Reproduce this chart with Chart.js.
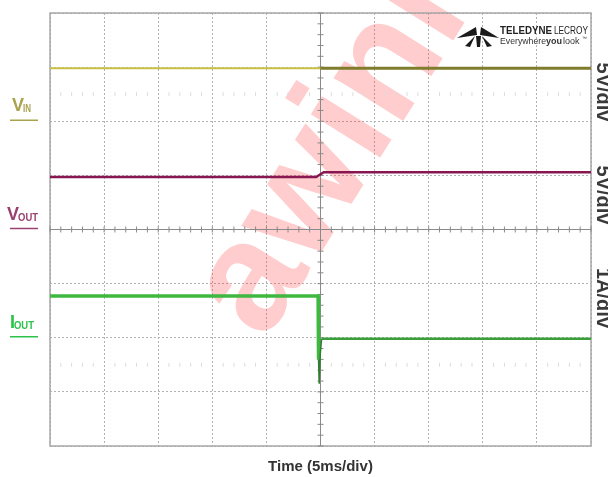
<!DOCTYPE html>
<html>
<head>
<meta charset="utf-8">
<script src="https://cdn.jsdelivr.net/npm/chart.js@4.4.1/dist/chart.umd.min.js"></script>
<style>
  html, body { margin: 0; padding: 0; background: #fff; }
  #wrap { width: 608px; height: 477px; position: relative; }
</style>
</head>
<body>
<div id="wrap"><canvas id="scope"></canvas></div>
<script>
// time in ms relative to trigger (5 ms/div, 10 div), level in screen divisions (0..8)
const vinTime = [-25, 0, 25];
const vinDiv = [6.98, 6.98, 6.98];

const voutTime = [-25, -0.4, 0.3, 25];
const voutDiv = [4.97, 4.97, 5.06, 5.06];

const ioutTime = [-25, -0.22, -0.18, -0.12, -0.02, 0.1, 25];
const ioutDiv = [2.77, 2.77, 1.6, 1.15, 1.7, 1.98, 1.98];

const channelLabels = [
  { main: 'V', sub: 'IN', div: 6, color: '#a9a24f' },
  { main: 'V', sub: 'OUT', div: 4, color: '#98406e' },
  { main: 'I', sub: 'OUT', div: 2, color: '#2cc24a' }
];
const scaleLabels = ['5V/div', '5V/div', '1A/div'];

const toPoints = (t, v) => t.map((x, i) => ({ x: x, y: v[i] }));

const scopeDecor = {
  id: 'scopeDecor',
  beforeDatasetsDraw(chart) {
    const { ctx, chartArea: a, scales: { x, y } } = chart;
    ctx.save();

    // watermark
    ctx.save();
    ctx.translate(265, 342);
    ctx.rotate(-58 * Math.PI / 180);
    ctx.font = 'bold 155px "Liberation Sans", Arial, sans-serif';
    ctx.fillStyle = 'rgba(255, 45, 45, 0.24)';
    ctx.fillText('awinic', 0, 0);
    ctx.restore();

    // frame
    ctx.strokeStyle = '#a8a8a8';
    ctx.lineWidth = 1.5;
    ctx.strokeRect(a.left, a.top, a.right - a.left, a.bottom - a.top);

    // center cross with minor ticks
    const cx = x.getPixelForValue(0);
    const cy = y.getPixelForValue(4);
    ctx.strokeStyle = '#8a8a8a';
    ctx.lineWidth = 1;
    ctx.beginPath();
    ctx.moveTo(a.left, cy); ctx.lineTo(a.right, cy);
    ctx.moveTo(cx, a.top); ctx.lineTo(cx, a.bottom);
    for (let t = -25; t <= 25; t += 1) {
      const px = x.getPixelForValue(t);
      ctx.moveTo(px, cy - 3); ctx.lineTo(px, cy + 3);
    }
    for (let d = 0; d <= 40; d++) {
      const py = y.getPixelForValue(d / 5);
      ctx.moveTo(cx - 3, py); ctx.lineTo(cx + 3, py);
    }
    ctx.stroke();

    // faint marker rows
    ctx.strokeStyle = '#dcdcdc';
    ctx.beginPath();
    [6.5, 1.5].forEach((d) => {
      const py = y.getPixelForValue(d);
      for (let t = -24; t < 25; t += 1) {
        if (t % 5 === 0) continue;
        const px = x.getPixelForValue(t);
        ctx.moveTo(px, py - 2); ctx.lineTo(px, py + 2);
      }
    });
    ctx.stroke();
    ctx.restore();
  },
  afterDraw(chart) {
    const { ctx, scales: { y } } = chart;
    ctx.save();

    // channel names on the left
    channelLabels.forEach((lab) => {
      const base = y.getPixelForValue(lab.div) - 10;
      ctx.fillStyle = lab.color;
      ctx.textBaseline = 'alphabetic';
      ctx.textAlign = 'left';
      const x0 = lab.main === 'I' ? 10 : (lab.sub === 'IN' ? 12 : 7);
      ctx.font = 'bold 18px "Liberation Sans", Arial, sans-serif';
      ctx.fillText(lab.main, x0, base);
      const w = ctx.measureText(lab.main).width;
      ctx.font = 'bold 11px "Liberation Sans", Arial, sans-serif';
      ctx.fillText(lab.sub, x0 + w - 1, base + 1, lab.sub === 'IN' ? 8 : 20);
      ctx.strokeStyle = lab.color;
      ctx.lineWidth = 1.5;
      ctx.beginPath();
      ctx.moveTo(10, base + 9); ctx.lineTo(38, base + 9);
      ctx.stroke();
    });

    // volts/amps per division on the right, rotated
    const centers = [92, 195, 298];
    ctx.fillStyle = '#3a3a3a';
    ctx.font = 'bold 20px "Liberation Sans", Arial, sans-serif';
    ctx.textAlign = 'center';
    ctx.textBaseline = 'alphabetic';
    scaleLabels.forEach((txt, i) => {
      ctx.save();
      ctx.translate(597, centers[i]);
      ctx.rotate(Math.PI / 2);
      ctx.fillText(txt, 0, 0);
      ctx.restore();
    });

    // scope brand mark
    ctx.fillStyle = '#1a1a1a';
    ctx.beginPath();
    ctx.moveTo(457, 38); ctx.lineTo(476, 27); ctx.lineTo(477, 35); ctx.closePath();
    ctx.moveTo(499, 38); ctx.lineTo(481, 27); ctx.lineTo(480, 35); ctx.closePath();
    ctx.moveTo(476, 36); ctx.lineTo(481, 36); ctx.lineTo(480, 47); ctx.lineTo(477, 47); ctx.closePath();
    ctx.moveTo(475, 36); ctx.lineTo(470, 47); ctx.lineTo(465, 46); ctx.closePath();
    ctx.moveTo(482, 36); ctx.lineTo(487, 47); ctx.lineTo(492, 46); ctx.closePath();
    ctx.fill();

    ctx.textAlign = 'left';
    ctx.fillStyle = '#222';
    ctx.font = 'bold 11px "Liberation Sans", Arial, sans-serif';
    ctx.fillText('TELEDYNE', 500, 34, 52);
    ctx.font = '11px "Liberation Sans", Arial, sans-serif';
    ctx.fillText('LECROY', 554, 34, 34);
    ctx.font = '9px "Liberation Sans", Arial, sans-serif';
    ctx.fillStyle = '#333';
    ctx.fillText('Everywhere', 500, 44, 46);
    ctx.font = 'bold 9px "Liberation Sans", Arial, sans-serif';
    ctx.fillText('you', 546, 44, 17);
    ctx.font = '9px "Liberation Sans", Arial, sans-serif';
    ctx.fillText('look', 563, 44, 19);
    ctx.font = '5px "Liberation Sans", Arial, sans-serif';
    ctx.fillText('™', 582, 40);

    ctx.restore();
  }
};

function chartInit() {
  const canvas = document.getElementById('scope');

  const scopeOptions = {
    type: 'line',
    data: {
      datasets: [
        {
          label: 'VIN',
          data: toPoints(vinTime, vinDiv),
          borderColor: '#7f7c2c',
          borderWidth: 3,
          segment: {
            borderColor: (c) => c.p0.parsed.x < 0 ? '#c9c146' : '#7f7c2c',
            borderWidth: (c) => c.p0.parsed.x < 0 ? 2 : 3
          }
        },
        {
          label: 'VOUT',
          data: toPoints(voutTime, voutDiv),
          borderColor: '#881650',
          borderWidth: 2.5
        },
        {
          label: 'IOUT',
          data: toPoints(ioutTime, ioutDiv),
          borderColor: '#3a9e3a',
          borderWidth: 2.5,
          segment: {
            borderColor: (c) => c.p0.parsed.x < -0.2 ? '#3fb840' : (c.p0.parsed.x < 0.1 ? '#2f7d2f' : '#3a9e3a'),
            borderWidth: (c) => c.p0.parsed.x < -0.2 ? 3.5 : (c.p0.parsed.x < 0.1 ? 1.5 : 2.5)
          }
        }
      ]
    },
    options: {
      responsive: true,
      maintainAspectRatio: false,
      animation: false,
      events: [],
      elements: {
        point: { radius: 0 },
        line: { tension: 0, borderJoinStyle: 'miter' }
      },
      layout: {
        padding: { left: 50, right: 17, top: 13, bottom: 0 }
      },
      scales: {
        x: {
          type: 'linear',
          min: -25,
          max: 25,
          ticks: { display: false, stepSize: 5 },
          grid: { color: '#b2b2b2', lineWidth: 1, drawTicks: false },
          border: { display: false, dash: [2, 2] },
          title: {
            display: true,
            text: 'Time (5ms/div)',
            color: '#333',
            font: { family: '"Liberation Sans", Arial, sans-serif', size: 15, weight: 'bold' },
            padding: { top: 12, bottom: 1 }
          }
        },
        y: {
          min: 0,
          max: 8,
          ticks: { display: false, stepSize: 1 },
          grid: { color: '#b2b2b2', lineWidth: 1, drawTicks: false },
          border: { display: false, dash: [2, 2] }
        }
      },
      plugins: {
        legend: { display: false },
        tooltip: { enabled: false }
      }
    },
    plugins: [scopeDecor]
  };

  new Chart(canvas, scopeOptions);
}

document.addEventListener('DOMContentLoaded', () => {
  chartInit();
});
</script>
</body>
</html>
